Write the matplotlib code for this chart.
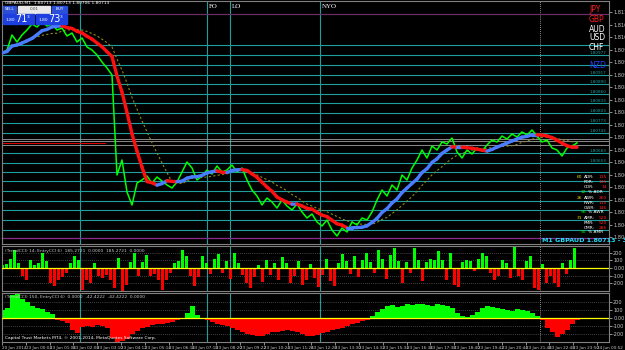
import matplotlib.pyplot as plt
import numpy as np
import pandas as pd
from matplotlib.collections import LineCollection
from matplotlib.patches import Rectangle

# GBPAUD M1 closes, one value every 5 bars
price = np.array([
    1.80983, 1.80992, 1.81037, 1.81016, 1.81037, 1.81052, 1.81070, 1.81061, 1.81076, 1.81064,
    1.81070, 1.81052, 1.81058, 1.81034, 1.81043, 1.81016, 1.81028, 1.81001, 1.80992, 1.80977,
    1.80956, 1.80938, 1.80917, 1.80617, 1.80662, 1.80566, 1.80527, 1.80593, 1.80602, 1.80614,
    1.80593, 1.80611, 1.80599, 1.80587, 1.80578, 1.80596, 1.80626, 1.80656, 1.80638, 1.80602,
    1.80614, 1.80632, 1.80620, 1.80644, 1.80626, 1.80632, 1.80647, 1.80626, 1.80638, 1.80602,
    1.80572, 1.80554, 1.80527, 1.80548, 1.80536, 1.80518, 1.80542, 1.80524, 1.80512, 1.80530,
    1.80506, 1.80488, 1.80500, 1.80476, 1.80464, 1.80482, 1.80452, 1.80434, 1.80458, 1.80446,
    1.80476, 1.80467, 1.80488, 1.80482, 1.80506, 1.80542, 1.80572, 1.80554, 1.80587, 1.80572,
    1.80617, 1.80602, 1.80638, 1.80662, 1.80692, 1.80668, 1.80704, 1.80692, 1.80716, 1.80710,
    1.80728, 1.80686, 1.80668, 1.80692, 1.80680, 1.80698, 1.80689, 1.80707, 1.80722, 1.80716,
    1.80734, 1.80725, 1.80740, 1.80731, 1.80746, 1.80737, 1.80752, 1.80734, 1.80716, 1.80722,
    1.80698, 1.80692, 1.80674, 1.80698, 1.80704, 1.80713])

# TrendCCI(14), one value every 4 bars
cci_fast = np.array([
    40, 50, 120, 240, 60, -110, -150, 100, 40, 60, 200, 90, -200, -240, -150, -120,
    -60, 60, 150, 110, -280, -150, -200, 60, -110, -130, -90, -160, -260, 130, -300, -220,
    80, 200, -100, 80, 170, -100, -80, -150, -280, -150, -60, 60, 90, 240, 150, -100,
    -240, -120, 150, 60, -80, 120, 180, -60, 90, -140, 200, 70, -90, -200, -260, -120,
    40, -180, 110, -90, 60, -150, 140, 70, -200, -110, 90, -220, -160, 50, -130, -250,
    -90, 120, -170, -230, 60, 180, 90, -80, 150, -120, 100, 200, 80, -60, 230, 120,
    -140, 170, 260, 90, -200, 80, -60, 260, 100, -170, 80, 120, 110, 220, 100, -150,
    200, -220, -250, 80, 100, 90, -40, 120, 200, 150, -60, -150, -100, 100, 60, -130,
    280, -100, -150, 90, 150, -260, -280, 50, -200, -100, -200, -250, 60, -80, 100, 260])

# TrendCCI(150), one value every 5 bars
cci_slow = np.array([
    100, 120, 290, 300, 240, 200, 150, 130, 110, 70, 50, -20, -40, -60, -150, -190,
    -110, -100, -110, -90, -100, -120, -250, -300, -290, -260, -200, -160, -130, -110, -90, -80,
    -70, -60, -50, -30, -10, 60, 150, 40, -10, -30, -50, -70, -90, -100, -120, -150,
    -170, -200, -210, -230, -220, -200, -180, -170, -160, -150, -160, -170, -200, -220, -230, -210,
    -190, -170, -150, -140, -120, -100, -80, -60, -40, -20, 20, 80, 110, 150, 160, 140,
    150, 170, 160, 170, 180, 160, 150, 170, 160, 150, 130, 60, 20, 10, 40, 80,
    120, 150, 140, 130, 110, 100, 90, 110, 100, 90, 60, 30, -30, -120, -180, -240,
    -200, -150, -80, -20])

levels = [1.81007, 1.80977, 1.80947, 1.80917, 1.80890, 1.80860, 1.80833, 1.80803, 1.80773,
          1.80743, 1.80683, 1.80653, 1.80626, 1.80599, 1.80569, 1.80539, 1.80512, 1.80482, 1.80452]
grey_levels = [1.80725, 1.80718, 1.80707]
bid = 1.80713
top_line = 1.81100
bottom_line = 1.80428

session_names = ["FO", "LO", "NYO"]
session_bars = [205, 228, 318]
other_vlines = [78]
separator_bar = 538

time_labels = ["20 Jun 2014", "23 Jun 00:04", "23 Jun 01:06", "23 Jun 02:08", "23 Jun 03:10",
               "23 Jun 04:12", "23 Jun 05:14", "23 Jun 06:16", "23 Jun 07:18", "23 Jun 08:20",
               "23 Jun 09:22", "23 Jun 10:24", "23 Jun 11:26", "23 Jun 12:28", "23 Jun 13:30",
               "23 Jun 14:32", "23 Jun 15:34", "23 Jun 16:36", "23 Jun 17:38", "23 Jun 18:40",
               "23 Jun 19:42", "23 Jun 20:44", "23 Jun 21:46", "23 Jun 22:48", "23 Jun 23:50",
               "24 Jun 00:52"]

W, H = 625, 350
GRID = "#808080"
TEAL = "#1f9e9e"
TXT = "#c8c8c8"

fig = plt.figure(figsize=(W / 100, H / 100), dpi=100, facecolor="black")


def box(y0, y1):
    return [2 / W, 1 - y1 / H, 607 / W, (y1 - y0) / H]


ax = fig.add_axes(box(1, 244))
ax1 = fig.add_axes(box(246, 291))
ax2 = fig.add_axes(box(293, 342))

for a in (ax, ax1, ax2):
    a.set_facecolor("black")
    a.set_xlim(0, 607)
    for s in a.spines.values():
        s.set_color(GRID)
        s.set_linewidth(0.8)
    a.yaxis.tick_right()
    a.tick_params(axis="y", colors=TXT, labelsize=3.6, length=2, pad=1, width=0.5)
    a.tick_params(axis="x", bottom=False, labelbottom=False)
    for v in other_vlines + session_bars:
        a.axvline(v, color=TEAL, lw=0.8, zorder=1)
    a.axvline(separator_bar, color="#c0c0c0", lw=0.6, ls=(0, (1, 1.5)), zorder=1)

# ---- main price window ----
ax.set_ylim(1.80410, 1.81139)
ax.set_yticks(np.arange(1.80430, 1.81140, 0.000375))
ax.yaxis.set_major_formatter(plt.FormatStrFormatter("%.5f"))
for lv in levels:
    ax.axhline(lv, color=TEAL, lw=0.8, zorder=1)
    # the stats block hides the labels of the lower levels
    if lv > 1.80630 and abs(lv - 1.80947) > 1e-6 and abs(lv - 1.81007) > 1e-6:
        ax.text(604, lv, f"{lv:.5f}", ha="right", va="bottom", color=TEAL, fontsize=3, zorder=3)
for lv in grey_levels:
    ax.axhline(lv, color="#a0a0a0", lw=0.6, zorder=1)
ax.axhline(bid, xmax=0.17, color="#e00000", lw=0.7, zorder=1)
ax.axhline(top_line, color="#6a2e62", lw=0.9, zorder=1)
ax.axhline(bottom_line, color="#8a2a8a", lw=0.9, zorder=1)

xp = np.arange(len(price)) * 5
ax.plot(xp, price, color="#00ff00", lw=1.1, zorder=4)

s = pd.Series(price)
fast_ma = s.rolling(7, min_periods=1).mean().to_numpy()
slow_ma = s.rolling(12, min_periods=1).mean().to_numpy()

ax.plot(xp, slow_ma, color="#8f8a18", lw=0.8, ls=(0, (2, 2)), zorder=3)
pts = np.column_stack([xp, fast_ma])
segs = np.stack([pts[:-1], pts[1:]], axis=1)
cols = np.where(np.diff(fast_ma) >= 0, "#4a7cff", "#ff1010")
ax.add_collection(LineCollection(segs, colors=cols, linewidths=2.4, zorder=5,
                                 capstyle="round"))

for name, b in zip(session_names, session_bars):
    ax.text(b + 2, 0.978, name, transform=ax.get_xaxis_transform(), color="white",
            fontsize=5, family="Liberation Serif", va="center")

# ---- TrendCCI(14) ----
ax1.set_ylim(-299, 286)
xf = np.arange(len(cci_fast)) * 4
ax1.bar(xf, cci_fast, width=3, linewidth=0,
        color=np.where(cci_fast >= 0, "#00ff00", "#ff0000"), zorder=2)
for g in (200, 100, -100, -200):
    ax1.axhline(g, color=GRID, lw=0.5, ls=(0, (1, 2)), zorder=1)
ax1.axhline(0, color="#ffff00", lw=0.9, zorder=3)
ax1.set_yticks([200, 100, 0, -100, -200])
ax1.set_yticklabels(["200", "100", "0.00", "-100", "-200"])
ax1.text(0.005, 0.93, "(TrendCCI) 14, EntryCCI 6)  185.2721  0.0000  185.2721  0.0000",
         transform=ax1.transAxes, color=TXT, fontsize=3.2, va="top")

# ---- TrendCCI(150) ----
ax2.set_ylim(-300, 312)
xs = np.arange(len(cci_slow)) * 5
ax2.bar(xs, cci_slow, width=5, linewidth=0,
        color=np.where(cci_slow >= 0, "#00ff00", "#ff0000"), zorder=2)
for g in (200, 100, -100, -200):
    ax2.axhline(g, color=GRID, lw=0.5, ls=(0, (1, 2)), zorder=1)
ax2.axhline(0, color="#ffff00", lw=0.9, zorder=3)
ax2.set_yticks([200, 100, 0, -100, -200])
ax2.set_yticklabels(["200", "100", "0.00", "-100", "-200"])
ax2.text(0.005, 0.95, "(TrendCCI) 150, EntryCCI 6)  0.0000  -42.4222  -42.4222  0.0000",
         transform=ax2.transAxes, color=TXT, fontsize=3.2, va="top")
ax2.text(0.005, 0.05, "Capital Trust Markets MT4, \u00a9 2001-2014, MetaQuotes Software Corp.",
         transform=ax2.transAxes, color="white", fontsize=3.2, va="bottom")
ax2.tick_params(axis="x", bottom=True, labelbottom=True, colors=TXT, labelsize=3.0,
                length=2, pad=1, width=0.5)
ax2.set_xticks(np.arange(len(time_labels)) * 23.8)
ax2.set_xticklabels(time_labels, ha="left")

# ---- overlay: trade panel, labels ----
ov = fig.add_axes([0, 0, 1, 1], zorder=10)
ov.set_xlim(0, W)
ov.set_ylim(H, 0)
ov.axis("off")
ov.patch.set_alpha(0)

ov.text(5, 3.5, "GBPAUD,M1  1.80713 1.80713 1.80706 1.80713", color="white",
        fontsize=3.2, va="center")
ov.add_patch(Rectangle((3, 6), 13, 7, color="#2b4fd8"))
ov.text(9.5, 9.5, "SELL", color="white", fontsize=3, ha="center", va="center")
ov.add_patch(Rectangle((18, 6), 32, 7, color="#e8e8e8"))
ov.text(34, 9.5, "0.01", color="#404040", fontsize=3, ha="center", va="center")
ov.add_patch(Rectangle((52, 6), 15, 7, color="#2b4fd8"))
ov.text(59.5, 9.5, "BUY", color="white", fontsize=3, ha="center", va="center")
for x0, big in ((3, "71"), (36, "73")):
    ov.add_patch(Rectangle((x0, 14), 31, 10, color="#1d3fe0"))
    ov.text(x0 + 3, 20, "1.80", color="white", fontsize=3.2, va="center")
    ov.text(x0 + 12, 19.5, big, color="white", fontsize=7, va="center")
    ov.text(x0 + 24, 17, "3", color="white", fontsize=3.2, va="center")

for txt, yy, c in (("JPY", 10, "#ff2020"), ("GBP", 19, "#ff2020"), ("AUD", 29, "white"),
                   ("USD", 38, "white"), ("CHF", 47, "white"), ("NZD", 65, "#2040ff")):
    ov.text(589, yy, txt, color=c, fontsize=5.5, va="center")

rows = [(177, "60", "ADR:", "115"), (182, "", "FDR:", "135"), (187, "", "CDR:", "14"),
        (192, "12", "% ADR", ""), (198, "26", "AWR:", "260"), (203, "", "FWR:", "115"),
        (208, "", "CWR:", "146"), (212, "56", "% AWR", ""), (218, "31", "AMR:", "520"),
        (223, "", "FMR:", "520"), (228, "", "CMR:", "286"), (232, "55", "% AMR", "")]
for yy, num, lab, val in rows:
    if lab.startswith("%"):
        ov.text(586, yy, num, color="#00ff00", fontsize=3.2, va="center", ha="right")
        ov.text(588, yy, lab, color="white", fontsize=3.2, va="center")
    else:
        ov.text(582, yy, num, color="#e0e000", fontsize=3.2, va="center", ha="right")
        ov.text(584, yy, lab, color="white", fontsize=3.2, va="center")
        ov.text(607, yy, val, color="#ff2020", fontsize=3.2, va="center", ha="right")
ov.text(542, 240, "M1 GBPAUD 1.80713 - 3.0", color="#20e0ff", fontsize=4.6,
        fontweight="bold", va="center")

fig.savefig("out.png", dpi=100, facecolor="black")
